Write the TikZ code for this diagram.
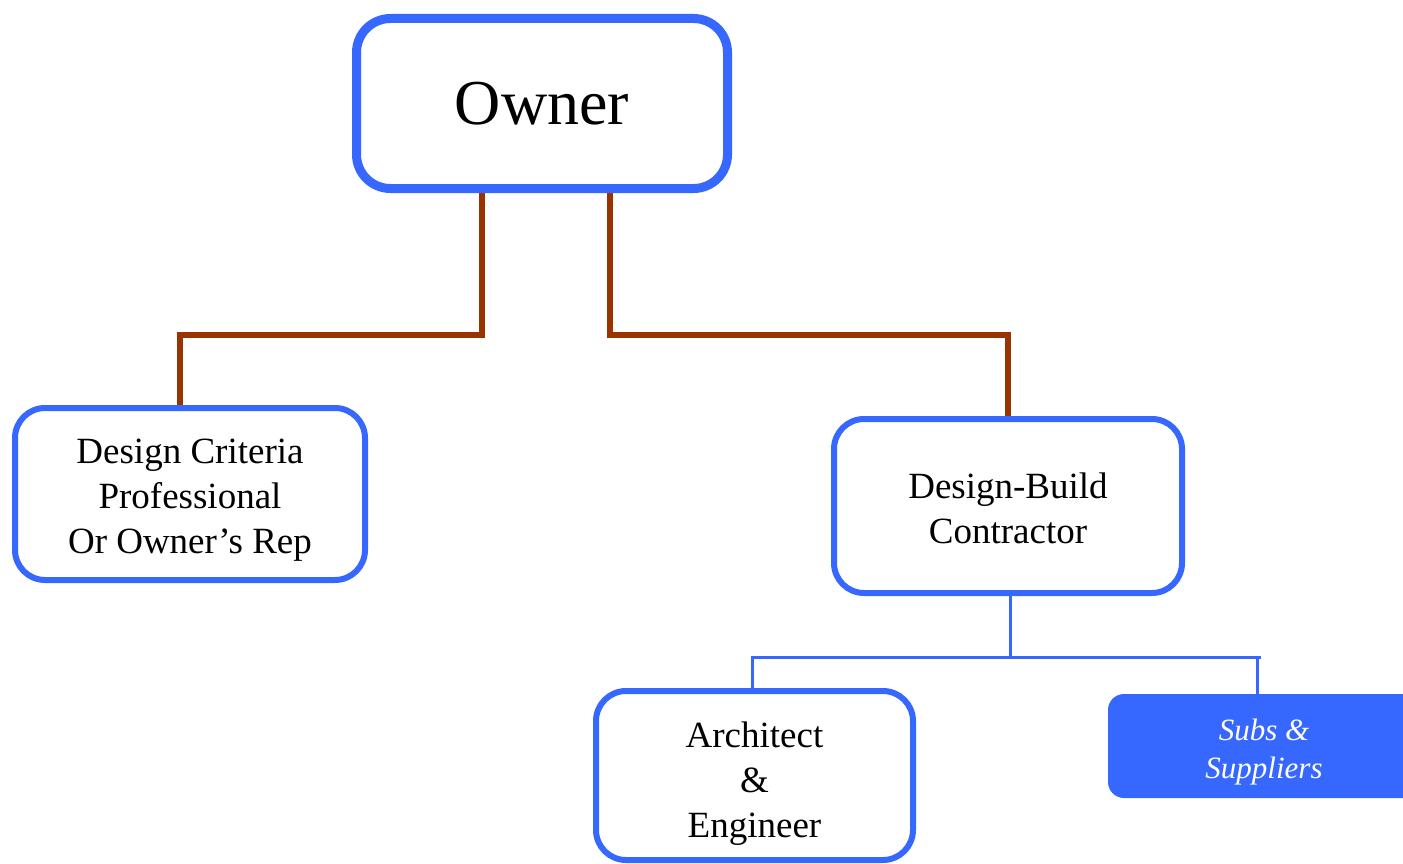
\documentclass[tikz,border=0pt]{standalone}
\usepackage{fontspec}
\setmainfont{Liberation Serif}
\usetikzlibrary{backgrounds}
\definecolor{boxblue}{RGB}{54,103,255}
\definecolor{linkbrown}{RGB}{153,51,0}
\begin{document}
\begin{tikzpicture}[x=1pt,y=1pt,
  rolebox/.style={draw=boxblue, fill=white, rounded corners=30pt, line width=6pt,
    inner sep=0pt},
  ownerbox/.style={rolebox, line width=9pt, rounded corners=34pt,
    align=center, font=\fontsize{64}{70}\selectfont},
  roletext/.style={align=center, inner sep=0pt, font=\fontsize{37}{45}\selectfont},
  tradebox/.style={fill=boxblue, rounded corners=16pt, inner sep=0pt},
  tradetext/.style={align=center, inner sep=0pt, text=white,
    font=\fontsize{31}{38}\selectfont\itshape},
  ownerlink/.style={draw=linkbrown, line width=6pt},
  teamlink/.style={draw=boxblue, line width=3pt}]
\useasboundingbox (0,0) rectangle (1403,-864);

% boxes
\node[ownerbox, minimum width=371pt, minimum height=170pt] (owner) at (542,-103.5) {Owner};
\node[rolebox, minimum width=350pt, minimum height=172pt] (dcp) at (190,-494) {};
\node[rolebox, minimum width=348pt, minimum height=174pt] (dbc) at (1008,-506) {};
\node[rolebox, minimum width=317pt, minimum height=169pt] (arch) at (754.5,-775.5) {};
\node[tradebox, minimum width=312pt, minimum height=104pt] (subs) at (1264,-746) {};

% box captions
\node[roletext] (dcptext) at ([yshift=-6pt]dcp.center)
  {Design Criteria\\Professional\\Or Owner’s Rep};
\node[roletext] (dbctext) at ([yshift=-2pt]dbc.center) {Design-Build\\Contractor};
\node[roletext] (archtext) at ([yshift=-8pt]arch.center) {Architect\\\&\\Engineer};
\node[tradetext] (substext) at ([yshift=-6pt]subs.center) {Subs \&\\Suppliers};

% junction points of the team bus
\coordinate (busmid) at (1010,-657);
\coordinate (busend) at (1261,-657);
\coordinate (subsdrop) at (1257,-657);

\begin{scope}[on background layer]
  % owner's two contracts
  \draw[ownerlink] ([xshift=-60pt]owner.south) -- ++(0,-142) -| ([xshift=-10pt]dcp.north);
  \draw[ownerlink] ([xshift=68pt]owner.south) -- ++(0,-142) -| (dbc.north);
  % design-build team
  \draw[teamlink] ([xshift=2pt]dbc.south) -- (busmid);
  \draw[teamlink] ([xshift=-2.5pt]arch.north) |- (busend);
  \draw[teamlink] (subsdrop) -- ([xshift=-7pt]subs.north);
\end{scope}
\end{tikzpicture}
\end{document}
